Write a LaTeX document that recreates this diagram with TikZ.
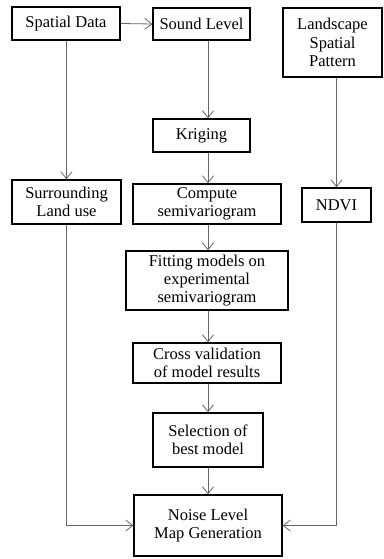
\documentclass[tikz,border=0pt]{standalone}
\usepackage{fontspec}
\setmainfont{Liberation Serif}
\usetikzlibrary{arrows.meta}
\begin{document}
\begin{tikzpicture}[x=1pt,y=-1pt,
  box/.style={draw=black,line width=1.3pt,rectangle,align=center,inner sep=0pt,
    font=\fontsize{16.5}{18.3}\selectfont},
  link/.style={draw=black!60,line width=0.8pt,
    -{Straight Barb[length=7pt,width=11pt,line width=0.8pt]}}]
\useasboundingbox (0,0) rectangle (383,559);
\node[box,minimum width=108pt,minimum height=33pt] (sd) at (66,23.5) {Spatial Data};
\node[box,minimum width=97pt,minimum height=32pt] (sl) at (201.5,24) {Sound Level};
\node[box,minimum width=99pt,minimum height=69pt] (lsp) at (332.5,42.5) {Landscape\\Spatial\\Pattern};
\node[box,minimum width=97pt,minimum height=33pt] (kr) at (201.5,135.5) {Kriging};
\node[box,minimum width=109pt,minimum height=44pt] (sur) at (66.5,202) {Surrounding\\Land use};
\node[box,minimum width=148pt,minimum height=40pt] (cs) at (207,204) {Compute\\semivariogram};
\node[box,minimum width=69pt,minimum height=34pt] (ndvi) at (336.5,205) {NDVI};
\node[box,minimum width=162pt,minimum height=59pt] (fit) at (207,280.5) {Fitting models on\\experimental\\semivariogram};
\node[box,minimum width=148pt,minimum height=40pt] (cv) at (207,363) {Cross validation\\of model results};
\node[box,minimum width=110pt,minimum height=54pt] (sel) at (208,440) {Selection of\\best model};
\node[box,minimum width=148pt,minimum height=61pt] (noise) at (208,525.5) {Noise Level\\Map Generation};
\coordinate (col) at (208,0);
\draw[link] (sd.east) -- (sl.west);
\draw[link] (sl.south -| col) -- (kr.north -| col);
\draw[link] (kr.south -| col) -- (cs.north -| col);
\draw[link] (cs.south -| col) -- (fit.north -| col);
\draw[link] (fit.south -| col) -- (cv.north -| col);
\draw[link] (cv.south -| col) -- (sel.north -| col);
\draw[link] (sel.south -| col) -- (noise.north -| col);
\draw[link] (sd.south -| sur.north) -- (sur.north);
\draw[link] (sur.south) |- (noise.west);
\draw[link] (lsp.south -| ndvi.north) -- (ndvi.north);
\draw[link] (ndvi.south) |- (noise.east);
\end{tikzpicture}
\end{document}
